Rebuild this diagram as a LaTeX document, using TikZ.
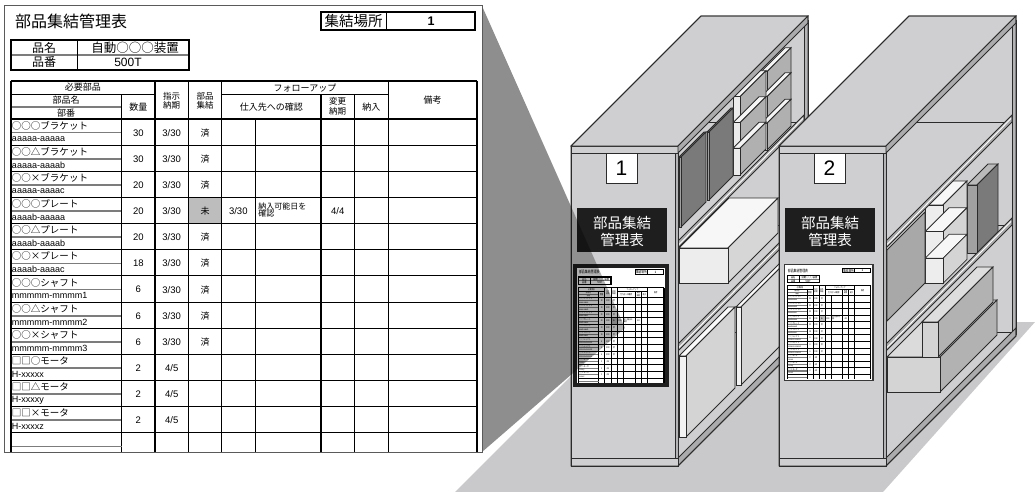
\documentclass[tikz,border=0pt]{standalone}
\usepackage{fontspec}
\setmainfont{Liberation Sans}
\newfontfamily\jp{Noto Sans CJK JP}
\newcommand\fs[1]{\fontsize{#1}{#1}\selectfont}

\definecolor{floorc}{HTML}{C9C9CB}
\definecolor{shadowc}{HTML}{8E8E8E}
\definecolor{shelfc}{HTML}{CFCFD1}
\definecolor{bandc}{HTML}{ABABAD}
\definecolor{postc}{HTML}{B4B4B6}
\definecolor{linec}{HTML}{2B2B2B}
\definecolor{labelc}{HTML}{1E1E1E}
\definecolor{sepc}{HTML}{7C7C7C}
\definecolor{cellc}{HTML}{BDBDBD}
\definecolor{panelc}{HTML}{5A5A5A}

% table line width factor (reduced for the small copies on the racks)
\def\tw{1}

\tikzset{
  txt/.style={inner sep=0pt, outer sep=0pt},
  tthick/.style={line width=1.9pt*\tw},
  tmid/.style={line width=1.4pt*\tw},
  tthin/.style={line width=0.9pt*\tw},
  tsep/.style={line width=1.7pt*\tw, draw=sepc},
  ln/.style={draw=linec, line width=0.8pt},
}

% one body row of the table: index, name, part number, quantity, date, status
\newcommand\trow[6]{%
  \pgfmathsetmacro\rt{114+26.15*#1}
  \node[txt,anchor=west] (nm#1) at (8,\rt+6.6) {\jp\fs{9.5}#2};
  \draw[tsep] (6.7,\rt+13.6) -- (117.7,\rt+13.6);
  \node[txt,anchor=west] (pn#1) at (8,\rt+20) {\fs{9}#3};
  \node[txt] (qt#1) at (134.3,\rt+13.8) {\fs{9.5}#4};
  \node[txt] (dt#1) at (167.7,\rt+13.8) {\fs{9.5}#5};
  \node[txt] (st#1) at (201,\rt+13.8) {\jp\fs{9}#6};
}

% the whole control sheet, local units: 478 x 447
\newcommand\sheetcontent{%
\begin{scope}
\clip (0,0) rectangle (478,447);
\node[txt,anchor=west] (ttl) at (11,16.7) {\jp\fs{16}部品集結管理表};
\draw[tthick] (316.7,7.3) rectangle (471,25);
\draw[tthin] (382.7,7.3) -- (382.7,25);
\node[txt] (plc) at (349.7,16.4) {\jp\fs{14.5}集結場所};
\node[txt] (plcn) at (427,16.4) {\fs{12.5}\bfseries 1};
% product box
\draw[tsep] (6.7,50) -- (185,50);
\draw[tthin] (73.3,35) -- (73.3,65);
\draw[tthick] (6.7,35) rectangle (185,65);
\node[txt] (inm) at (40,42.5) {\jp\fs{12}品名};
\node[txt] (inmv) at (131,42.5) {\jp\fs{12.5}自動○○○装置};
\node[txt] (ino) at (40,57.5) {\jp\fs{12}品番};
\node[txt] (inov) at (124,57.5) {\fs{12}500T};
% missing-parts cell
\fill[cellc] (184.3,192.45) rectangle (217.7,218.6);
% header
\node[txt] (hA) at (78.9,82.6) {\jp\fs{9}必要部品};
\node[txt] (hB) at (62.2,95.3) {\jp\fs{9}部品名};
\node[txt] (hC) at (62.2,108.2) {\jp\fs{9}部番};
\node[txt] (hD) at (134.3,102) {\jp\fs{9}数量};
\node[txt] (hE) at (167.7,91.3) {\jp\fs{8.5}指示};
\node[txt] (hE2) at (167.7,100.5) {\jp\fs{8.5}納期};
\node[txt] (hF) at (201,91.3) {\jp\fs{8.5}部品};
\node[txt] (hF2) at (201,100.5) {\jp\fs{8.5}集結};
\node[txt] (hG) at (301,82.6) {\jp\fs{9}フォローアップ};
\node[txt] (hH) at (267.3,102) {\jp\fs{9}仕入先への確認};
\node[txt] (hI) at (333.7,96.7) {\jp\fs{8.5}変更};
\node[txt] (hI2) at (333.7,106) {\jp\fs{8.5}納期};
\node[txt] (hJ) at (367.3,102) {\jp\fs{9}納入};
\node[txt] (hK) at (428.5,95) {\jp\fs{9}備考};
% body
\trow{0}{○○○ブラケット}{aaaaa-aaaaa}{30}{3/30}{済}
\trow{1}{○○△ブラケット}{aaaaa-aaaab}{30}{3/30}{済}
\trow{2}{○○×ブラケット}{aaaaa-aaaac}{20}{3/30}{済}
\trow{3}{○○○プレート}{aaaab-aaaaa}{20}{3/30}{未}
\trow{4}{○○△プレート}{aaaab-aaaab}{20}{3/30}{済}
\trow{5}{○○×プレート}{aaaab-aaaac}{18}{3/30}{済}
\trow{6}{○○○シャフト}{mmmmm-mmmm1}{6}{3/30}{済}
\trow{7}{○○△シャフト}{mmmmm-mmmm2}{6}{3/30}{済}
\trow{8}{○○×シャフト}{mmmmm-mmmm3}{6}{3/30}{済}
\trow{9}{□□○モータ}{H-xxxxx}{2}{4/5}{}
\trow{10}{□□△モータ}{H-xxxxy}{2}{4/5}{}
\trow{11}{□□×モータ}{H-xxxxz}{2}{4/5}{}
\node[txt] (r3a) at (234.3,206.2) {\fs{9.5}3/30};
\node[txt,anchor=west] (r3b) at (254.3,201.3) {\jp\fs{8}納入可能日を};
\node[txt,anchor=west] (r3c) at (254.3,208.9) {\jp\fs{8}確認};
\node[txt] (r3d) at (333.7,206.2) {\fs{9.5}4/4};
% grid
\draw[tthick] (6.7,76) -- (472.7,76);
\draw[tthin] (6.7,89.3) -- (151,89.3);
\draw[tthin] (217.7,89.3) -- (384.3,89.3);
\draw[tsep] (6.7,101.7) -- (117.7,101.7);
\draw[tthick] (6.7,114) -- (472.7,114);
\draw[tthin] (117.7,89.3) -- (117.7,447);
\draw[tthin] (251,114) -- (251,447);
\foreach \k in {1,...,12} {\draw[tthin] (6.7,{114+26.15*\k}) -- (472.7,{114+26.15*\k});}
\draw[tsep] (6.7,441.4) -- (117.7,441.4);
\foreach \c in {151,184.3,217.7,384.3} {\draw[tmid] (\c,76) -- (\c,447);}
\foreach \c in {317,350.3} {\draw[tmid] (\c,89.3) -- (\c,447);}
\draw[tthick] (6.7,76) -- (6.7,447);
\draw[tthick] (472.7,76) -- (472.7,447);
\end{scope}}

% rack frame, local x from the front panel's left edge
\newcommand\shelfback{%
  \fill[shelfc] (0,146) -- (130,16) -- (237,16) -- (237,336) -- (107,466) -- (0,466) -- cycle;
  \draw[ln] (137,122) -- (233,122);
  \draw[ln] (137,225) -- (233,225);
  \draw[ln] (137,332) -- (233,332);
  \draw[ln,fill=postc] (233,20) rectangle (237,334);
  \draw[ln,fill=bandc] (107,458) -- (237,328) -- (237,336) -- (107,466) -- cycle;
}
\newcommand\shelfboards{%
  \foreach \h in {241,344} {%
    \draw[ln,fill=bandc] (107,\h) -- (233,\h-126) -- (233,\h-119) -- (107,\h+7) -- cycle;
    \draw[draw=white, line width=0.9pt] (108,\h+3.5) -- (232,\h-122.5);
  }
}
\newcommand\shelffront{%
  \draw[ln,fill=shelfc] (0,153) rectangle (104,458);
  \draw[ln,fill=postc] (104,153) rectangle (107,458);
  \draw[ln,fill=shelfc] (0,458) rectangle (107,466);
  \draw[ln,fill=shelfc] (0,146) rectangle (107,153);
  \draw[ln,fill=shelfc] (0,146) -- (130,16) -- (237,16) -- (107,146) -- cycle;
  \draw[ln,fill=bandc] (107,146) -- (237,16) -- (237,23) -- (107,153) -- cycle;
  \draw[ln] (0,146) -- (130,16) -- (237,16) -- (237,336) -- (107,466) -- (0,466) -- cycle;
}
\newcommand\shelfsign[1]{%
  \draw[ln,fill=white] (35,153) rectangle (66,183);
  \node[txt] (num#1) at (50.5,168.5) {\fs{21}#1};
  \fill[labelc] (6,207.5) rectangle (96,252);
  \node[txt,text=white] (lbla#1) at (51,223.3) {\jp\fs{14.5}部品集結};
  \node[txt,text=white] (lblb#1) at (51,239.5) {\jp\fs{14.5}管理表};
}
% a box seen from the front-right: front face x1..x2, y top..bottom, depth
\newcommand\obox[8]{% x1,x2,ytop,ybot,depth,front,top,side
  \draw[ln,fill=#7] (#1,#3) -- (#2,#3) -- (#2+#5,#3-#5) -- (#1+#5,#3-#5) -- cycle;
  \draw[ln,fill=#8] (#2,#3) -- (#2+#5,#3-#5) -- (#2+#5,#4-#5) -- (#2,#4) -- cycle;
  \draw[ln,fill=#6] (#1,#3) rectangle (#2,#4);
}

\begin{document}
\begin{tikzpicture}[x=1pt,y=-1pt]
\useasboundingbox (0,0) rectangle (1035,492);
\fill[white] (0,0) rectangle (1035,492);

% floor
\fill[floorc] (455,492) -- (600,347) -- (1017,322) -- (1035,322) -- (883,492) -- cycle;
% projection wedge from the sheet to rack 1
\fill[shadowc] (482,6) -- (482,452) -- (625,328) -- cycle;

% the control sheet
\draw[draw=panelc, line width=0.8pt, fill=white] (4,5) rectangle (482,452);
\begin{scope}[shift={(4,5)}]
  \sheetcontent
\end{scope}

% ---------------- rack 1 ----------------
\begin{scope}[shift={(571,0)}]
  \shelfback
  % light boxes at the back of the upper shelf
  \foreach \a/\b in {71.7/96.7, 96.7/123.3, 123.3/150} {
    \obox{190}{196}{\a}{\b}{24}{black!8}{black!4}{black!31}
  }
  \foreach \a/\b in {96.7/122.7, 122.7/148.3, 148.3/175} {
    \obox{162}{169}{\a}{\b}{26}{black!8}{black!4}{black!31}
  }
  % dark upright boxes
  \obox{136}{138}{132}{200}{24}{black!37}{black!30}{black!52}
  \obox{108}{110}{157}{227}{25}{black!37}{black!30}{black!52}
  % white box, middle shelf
  \obox{108}{157}{248}{283}{50}{black!7}{black!3}{black!16}
  % tall boxes, lower shelf
  \obox{165}{170}{307}{385}{50}{black!5}{black!2}{black!17}
  \obox{108}{115}{356}{437}{49}{black!5}{black!2}{black!17}
  \shelfboards
  \shelffront
  \shelfsign{1}
  \fill[black!88] (2,264) rectangle (98,387);
  \fill[white] (6,268) rectangle (94,383);
  \begin{scope}[shift={(6,268)}, xscale=88/478, yscale=115/447, transform shape]
    \def\tw{0.6}
    \sheetcontent
  \end{scope}
\end{scope}
% wedge falling on the front of rack 1
\begin{scope}
  \clip (571,146) rectangle (678,466);
  \fill[black, opacity=0.3] (482,6) -- (482,452) -- (625,328) -- cycle;
\end{scope}

% ---------------- rack 2 ----------------
\begin{scope}[shift={(779,0)}]
  \shelfback
  % middle shelf: dark box, stacked white boxes, grey binder
  \obox{188}{198}{185}{253}{21}{black!37}{black!27}{black!52}
  \foreach \a/\b in {205/231.7, 231.7/258.3, 258.3/283.3} {
    \obox{146}{164}{\a}{\b}{24}{black!7}{black!3}{black!17}
  }
  \draw[ln,fill=black!34] (108,250) -- (146,212) -- (146,283) -- (108,321) -- cycle;
  % lower shelf: two long boxes
  \obox{108}{161}{357}{392}{57}{black!17}{black!14}{black!30}
  \obox{143}{159}{322}{357}{55}{black!17}{black!13}{black!30}
  \shelfboards
  \shelffront
  \shelfsign{2}
  \draw[draw=black!78, line width=1.3pt, fill=white] (5.5,264.5) rectangle (94,380.5);
  \begin{scope}[shift={(7,266.5)}, xscale=85.5/478, yscale=112.5/447, transform shape]
    \def\tw{0.6}
    \sheetcontent
  \end{scope}
\end{scope}
\end{tikzpicture}
\end{document}
